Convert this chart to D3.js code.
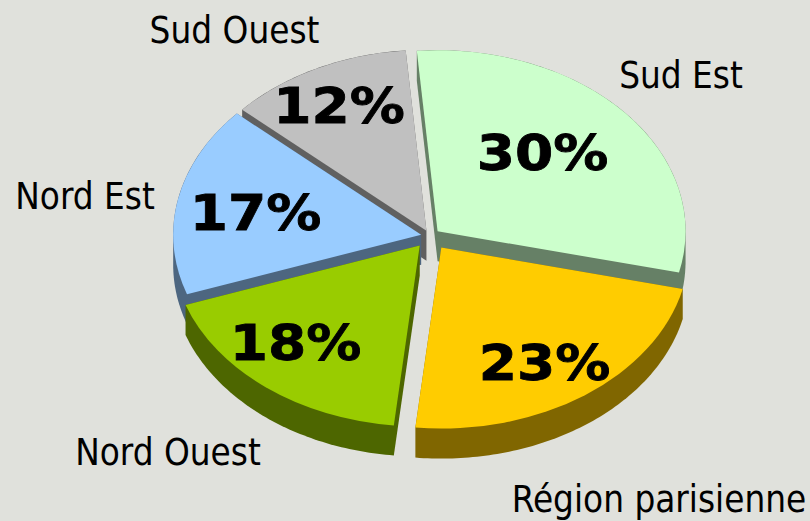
<!DOCTYPE html>
<html><head><meta charset="utf-8">
<script src="https://cdn.jsdelivr.net/npm/d3@7/dist/d3.min.js"></script>
<style>html,body{margin:0;padding:0;background:#e0e1dc;overflow:hidden}svg{display:block}</style>
</head><body><svg id="c" width="810" height="521"></svg>
<script>
const categories = ["Sud Est","Région parisienne","Nord Ouest","Nord Est","Sud Ouest"];
const shares = [30,23,18,17,12];
const topColors = ["#ccffcc","#ffcc00","#99cc00","#99ccff","#c0c0c0"];
const wallColors = ["#668066","#806600","#4d6600","#4d6680","#606060"];
const explode = [10,19.5,16.5,9,8];
const drawOrder = [4,0,3,2,1];
// layout of the text (anchor x, baseline y)
const pctPos = [[542.5,170],[544.5,380],[295.5,360],[255.5,230],[339,123]];
const namePos = [[681,88],[659,512],[168,465],[85,209],[234.5,43]];

const W=810,H=521,cx=430,cy=236,rx=248,ry=181,depth=30,k=ry/rx;
const startA=-4.8*Math.PI/180;
const svg=d3.select("#c");
svg.append("rect").attr("width",W).attr("height",H).attr("fill","#e0e1dc");
const pie=d3.pie().sort(null).startAngle(startA).endAngle(startA+2*Math.PI);
const arcs=pie(shares);
const arcGen=d3.arc().innerRadius(0).outerRadius(rx);
const sx=d3.scaleLinear().domain([-1,1]).range([-rx,rx]);
const sy=d3.scaleLinear().domain([-1,1]).range([-ry,ry]);
const g=svg.append("g");
drawOrder.forEach(i=>{
  const a=arcs[i], mid=(a.startAngle+a.endAngle)/2;
  const ox=cx+explode[i]*Math.sin(mid), oy=cy-explode[i]*Math.cos(mid)*k;
  const n=Math.ceil((a.endAngle-a.startAngle)*60);
  const rim=d3.range(n+1).map(j=>{
    const t=a.startAngle+(a.endAngle-a.startAngle)*j/n;
    return [ox+sx(Math.sin(t)),oy+sy(-Math.cos(t))];
  });
  const pts=[[ox,oy],...rim];
  const hull=d3.polygonHull(pts.concat(pts.map(p=>[p[0],p[1]+depth])));
  g.append("path").attr("d",d3.line()(hull)+"Z").attr("fill",wallColors[i]);
  g.append("path").attr("d",arcGen(a))
    .attr("transform",`translate(${ox},${oy}) scale(1,${k})`)
    .attr("fill",topColors[i]);
});
shares.forEach((v,i)=>{
  svg.append("text").text(v+"%")
    .attr("transform",`translate(${pctPos[i][0]},${pctPos[i][1]}) scale(1.1,1)`)
    .attr("text-anchor","middle").attr("font-family","DejaVu Sans").attr("font-weight","bold")
    .attr("font-size",50).attr("fill","#000").attr("stroke","#000").attr("stroke-width",0.8);
});
categories.forEach((c,i)=>{
  svg.append("text").text(c)
    .attr("x",namePos[i][0]).attr("y",namePos[i][1])
    .attr("text-anchor","middle").attr("font-family","DejaVu Sans").attr("font-stretch","condensed")
    .attr("font-size",36.5).attr("fill","#000");
});
</script></body></html>
